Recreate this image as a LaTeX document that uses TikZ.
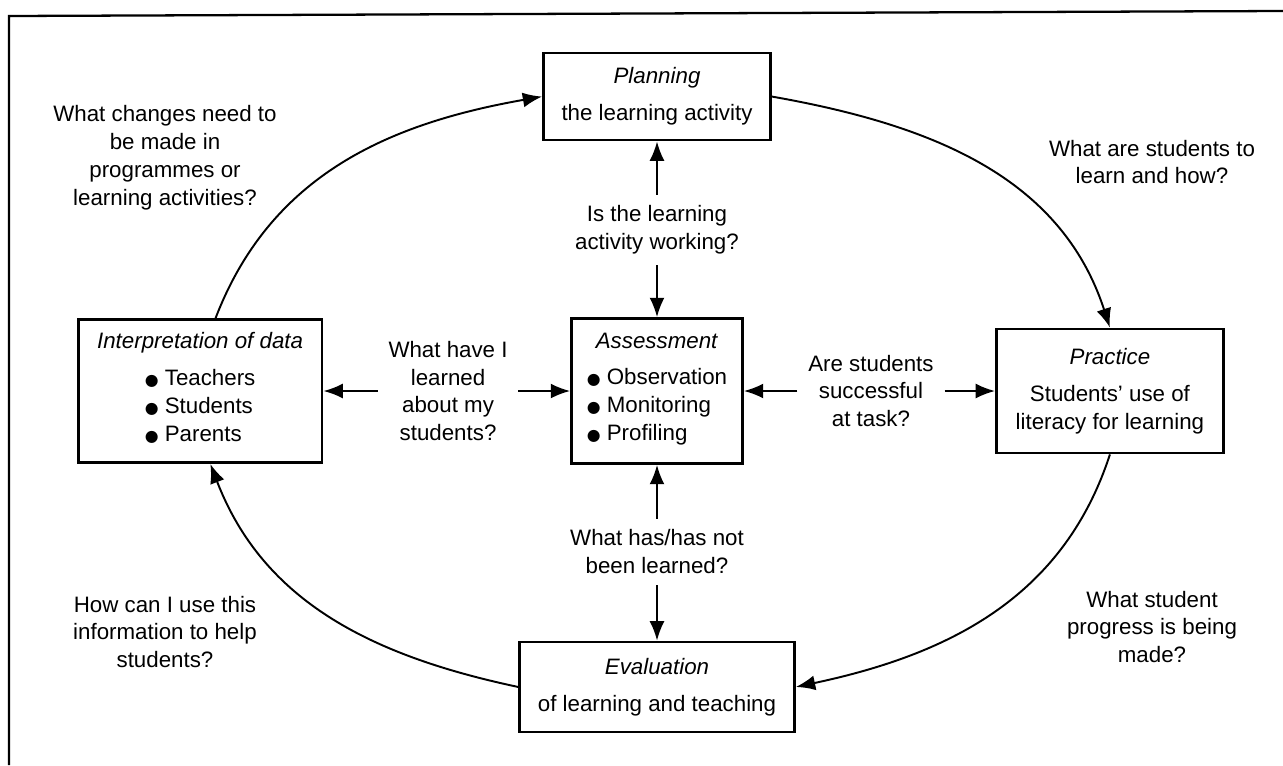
\documentclass[tikz,border=0pt]{standalone}
\usepackage{fontspec}
\setmainfont{Liberation Sans}
\newfontfamily\symfont{DejaVu Sans}
\usepackage{tikz}
\usetikzlibrary{positioning,arrows.meta}

\newcommand{\bul}{{\symfont\fontsize{9}{9}\selectfont ●}\ }

\begin{document}
\begin{tikzpicture}[
      x=0.02cm, y=-0.02cm,
      font=\fontsize{12.7}{15.9}\selectfont,
      block/.style={rectangle, draw, line width=1.6pt, align=center, inner sep=0pt},
      question/.style={align=center, inner sep=6pt},
      line/.style={draw, line width=1.1pt, -{Latex[length=11pt,width=8.5pt]}}
    ]

    \useasboundingbox (0,0) rectangle (1283,765);
    % frame: only top and left edge visible
    \draw[line width=1.3pt] (9,765) -- (9,16) -- (1283,11);

    \node [block, minimum width=3.42cm, minimum height=2.9cm] (assess) at (657,391) {\textit{Assessment}\\[5pt]\begin{tabular}[t]{@{}l@{}}\bul Observation\\ \bul Monitoring\\ \bul Profiling\end{tabular}};
    \node [block, above of=assess, node distance=5.89cm, minimum width=4.54cm, minimum height=1.74cm] (plan) {\textit{Planning}\\[5pt]the learning activity};
    \node [block, right of=assess, node distance=9.06cm, minimum width=4.54cm, minimum height=2.48cm] (practice) {\textit{Practice}\\[5pt]Students' use of\\literacy for learning};
    \node [block, below of=assess, node distance=5.92cm, minimum width=5.5cm, minimum height=1.8cm] (eval) {\textit{Evaluation}\\[5pt]of learning and teaching};
    \node [block, left of=assess, node distance=9.14cm, minimum width=4.88cm, minimum height=2.86cm] (interp) {\textit{Interpretation of data}\\[5pt]\begin{tabular}[t]{@{}l@{}}\bul Teachers\\ \bul Students\\ \bul Parents\end{tabular}};

    \node [question, above of=assess, node distance=3.22cm] (qworking) {Is the learning\\activity working?};
    \node [question, left of=assess, node distance=4.18cm] (qlearned) {What have I\\learned\\about my\\students?};
    \node [question, right of=assess, node distance=4.28cm] (qtask) {Are students\\successful\\at task?};
    \node [question, below of=assess, node distance=3.22cm] (qnot) {What has/has not\\been learned?};

    \node [question] (qchange) at (165,158) {What changes need to\\be made in\\programmes or\\learning activities?};
    \node [question] (qstudy) at (1152,162) {What are students to\\learn and how?};
    \node [question] (qprogress) at (1152,627) {What student\\progress is being\\made?};
    \node [question] (qhow) at (165,632) {How can I use this\\information to help\\students?};

    \path [line] (qworking) -- (plan);
    \path [line] (qworking) -- (assess);
    \path [line] (qlearned) -- (interp);
    \path [line] (qlearned) -- (assess);
    \path [line] (qtask) -- (assess);
    \path [line] (qtask) -- (practice);
    \path [line] (qnot) -- (assess);
    \path [line] (qnot) -- (eval);

    \path [line] (interp.78) to[out=69, in=190] (plan.west);
    \path [line] (plan.east) to[out=-10, in=108] (practice.north);
    \path [line] (practice.south) to[out=252, in=12] (eval.east);
    \path [line] (eval.west) to[out=168, in=-69] (interp.-82);

    \end{tikzpicture}
\end{document}
